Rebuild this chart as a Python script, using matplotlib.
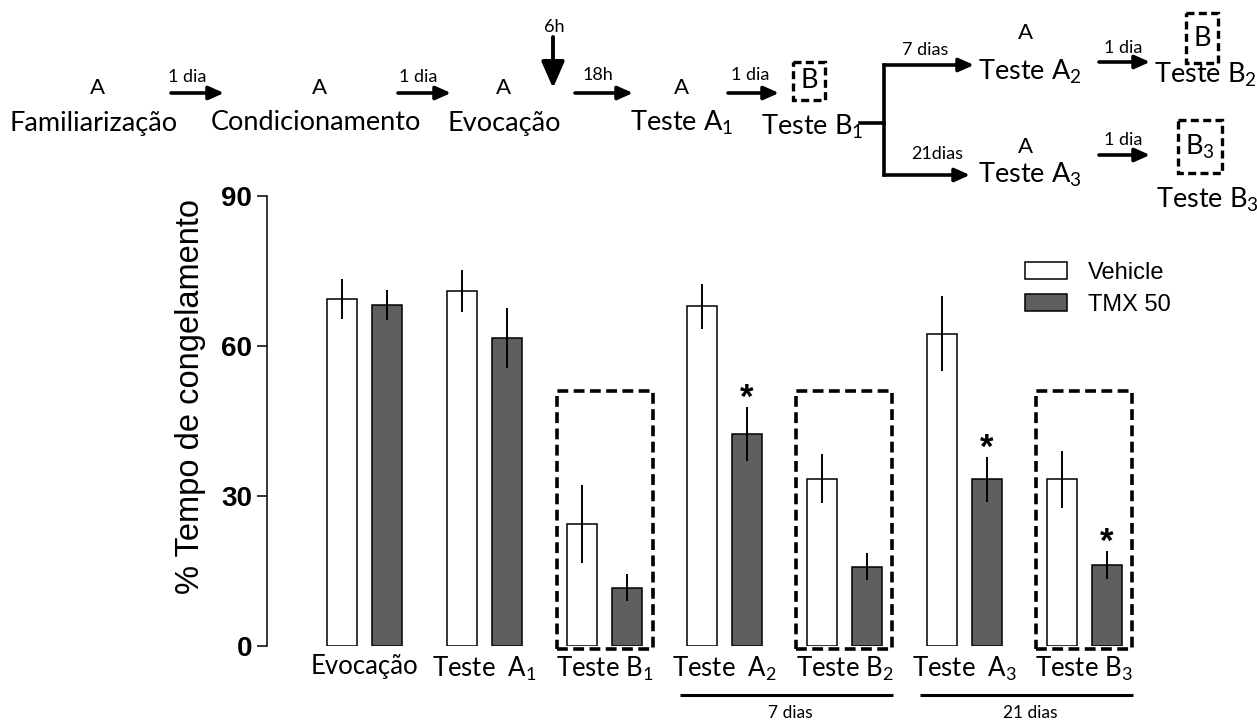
import numpy as np
import matplotlib.pyplot as plt
from matplotlib.patches import Rectangle, Patch

plt.rcParams['font.family'] = ['Lato', 'DejaVu Sans']

# data (% freezing, mean and SEM)
groups = ["Evocação", "Teste  $\\mathregular{A_1}$", "Teste $\\mathregular{B_1}$",
          "Teste  $\\mathregular{A_2}$", "Teste $\\mathregular{B_2}$",
          "Teste  $\\mathregular{A_3}$", "Teste $\\mathregular{B_3}$"]
vehicle = [69.5, 71.0, 24.5, 68.0, 33.5, 62.5, 33.4]
vehicle_sem = [4.0, 4.2, 7.8, 4.5, 4.9, 7.5, 5.7]
tmx = [68.2, 61.7, 11.7, 42.5, 15.9, 33.4, 16.2]
tmx_sem = [3.1, 6.0, 2.7, 5.4, 2.7, 4.5, 2.8]
tmx_sig = [False, False, False, True, False, True, True]
context_b = [False, False, True, False, True, False, True]
periods = [("7 dias", 3, 4), ("21 dias", 5, 6)]

W, H = 1257, 720
fig = plt.figure(figsize=(W / 100, H / 100), dpi=100)
ax = fig.add_axes([267 / W, 74 / H, 877 / W, 450 / H])

x = np.arange(len(groups))
bw = 0.25
off = 0.1875
dark = '#5f5f5f'

ax.bar(x - off, vehicle, bw, color='white', edgecolor='black', linewidth=1.1, zorder=2)
ax.bar(x + off, tmx, bw, color=dark, edgecolor='black', linewidth=1.1, zorder=2)
ax.errorbar(x - off, vehicle, yerr=vehicle_sem, fmt='none', ecolor='black',
            elinewidth=1.4, capsize=0, zorder=3)
ax.errorbar(x + off, tmx, yerr=tmx_sem, fmt='none', ecolor='black',
            elinewidth=1.4, capsize=0, zorder=3)

# significance stars
for i in range(len(groups)):
    if tmx_sig[i]:
        ax.text(x[i] + off, tmx[i] + tmx_sem[i] - 0.2, '*', ha='center', va='baseline',
                fontsize=25, fontweight='bold', family='Liberation Sans')

# dashed boxes around context B tests
for i in range(len(groups)):
    if context_b[i]:
        ax.add_patch(Rectangle((x[i] - 0.4, -0.6), 0.8, 51.6, fill=False, edgecolor='black',
                               linewidth=2.6, linestyle=(0, (3.0, 1.5)), zorder=4,
                               clip_on=False))

# period underlines
for name, a, b in periods:
    ax.plot([x[a] - 0.37, x[b] + 0.41], [-9.7, -9.7], color='black', linewidth=2.2,
            clip_on=False, solid_capstyle='butt')
    ax.text((x[a] + x[b]) / 2 + 0.05, -13.3, name, ha='center', va='center', fontsize=12.5)

ax.set_xlim(-98 / 120, 6.5)
ax.set_ylim(0, 90)
ax.set_yticks([0, 30, 60, 90])
ax.set_xticks(x)
ax.set_xticklabels(groups, fontsize=18.5)
ax.tick_params(axis='x', length=0, pad=6)
ax.tick_params(axis='y', length=7.2, width=1.1, pad=3.6)
for lab in ax.get_yticklabels():
    lab.set_family('Liberation Sans')
    lab.set_fontweight('bold')
    lab.set_fontsize(20)
for s in ['top', 'right', 'bottom']:
    ax.spines[s].set_visible(False)
ax.spines['left'].set_linewidth(1.1)
ax.patch.set_alpha(0)

leg = ax.legend(handles=[Patch(facecolor='white', edgecolor='black', linewidth=1.1, label='Vehicle'),
                         Patch(facecolor=dark, edgecolor='black', linewidth=1.1, label='TMX 50')],
                loc='upper left', bbox_to_anchor=(1025 / W, 1 - 262 / H),
                bbox_transform=fig.transFigure, frameon=False, borderpad=0, borderaxespad=0,
                handlelength=1.78, handleheight=0.72, handletextpad=0.9, labelspacing=0.42,
                prop={'family': 'Liberation Sans', 'size': 17})

# overlay in pixel coordinates for the protocol diagram
ov = fig.add_axes([0, 0, 1, 1])
ov.set_xlim(0, W)
ov.set_ylim(H, 0)
ov.axis('off')
ov.patch.set_alpha(0)

ov.text(191, 397, '% Tempo de congelamento', rotation=90, ha='center', va='center',
        fontsize=23.5, family='Liberation Sans')

big = 19.5
small = 13
ctx = 16


def arrow(x0, y0, x1, y1, head='-|>,head_length=0.45,head_width=0.2', lw=2.6):
    ov.annotate('', xy=(x1, y1), xytext=(x0, y0),
                arrowprops=dict(arrowstyle=head, lw=lw, color='black', mutation_scale=20,
                                shrinkA=0, shrinkB=0))


def ctx_box(x0, y0, x1, y1, label):
    ov.add_patch(Rectangle((x0, y0), x1 - x0, y1 - y0, fill=False, edgecolor='black',
                           linewidth=2.4, linestyle=(0, (2.4, 1.3))))
    ov.text((x0 + x1) / 2, (y0 + y1) / 2, label, ha='center', va='center', fontsize=big)


# row 1
ov.text(97, 88, 'A', ha='center', va='center', fontsize=ctx)
ov.text(94, 123, 'Familiarização', ha='center', va='center', fontsize=big)
arrow(171, 93, 224, 93)
ov.text(187, 77, '1 dia', ha='center', va='center', fontsize=small)
ov.text(320, 88, 'A', ha='center', va='center', fontsize=ctx)
ov.text(316, 123, 'Condicionamento', ha='center', va='center', fontsize=big)
arrow(398, 93, 451, 93)
ov.text(418, 77, '1 dia', ha='center', va='center', fontsize=small)
ov.text(504, 88, 'A', ha='center', va='center', fontsize=ctx)
ov.text(504, 123, 'Evocação', ha='center', va='center', fontsize=big)
ov.text(554, 27, '6h', ha='center', va='center', fontsize=small)
arrow(553, 37, 553, 88, head='-|>,head_length=0.8,head_width=0.35', lw=2.8)
arrow(575, 93, 633, 93)
ov.text(598, 75, '18h', ha='center', va='center', fontsize=small)
ov.text(681, 88, 'A', ha='center', va='center', fontsize=ctx)
ov.text(682, 123, 'Teste $\\mathregular{A_1}$', ha='center', va='center', fontsize=big)
arrow(728, 93, 779, 93)
ov.text(750, 75, '1 dia', ha='center', va='center', fontsize=small)
ctx_box(793, 62, 825, 100, 'B')
ov.text(812, 127, 'Teste $\\mathregular{B_1}$', ha='center', va='center', fontsize=big)

# branch
ov.plot([860, 884], [123, 123], color='black', lw=2.6)
ov.plot([884, 884], [65, 175], color='black', lw=2.6)
arrow(884, 65, 974, 65)
arrow(884, 175, 970, 175)
ov.text(925, 50, '7 dias', ha='center', va='center', fontsize=small)
ov.text(937, 154, '21dias', ha='center', va='center', fontsize=small)

# upper branch
ov.text(1026, 33, 'A', ha='center', va='center', fontsize=ctx)
ov.text(1030, 72, 'Teste $\\mathregular{A_2}$', ha='center', va='center', fontsize=big)
arrow(1099, 62, 1150, 62)
ov.text(1123, 48, '1 dia', ha='center', va='center', fontsize=small)
ctx_box(1186, 13, 1218, 63, 'B')
ov.text(1205, 75, 'Teste $\\mathregular{B_2}$', ha='center', va='center', fontsize=big)

# lower branch
ov.text(1026, 147, 'A', ha='center', va='center', fontsize=ctx)
ov.text(1030, 175, 'Teste $\\mathregular{A_3}$', ha='center', va='center', fontsize=big)
arrow(1099, 155, 1150, 155)
ov.text(1123, 140, '1 dia', ha='center', va='center', fontsize=small)
ctx_box(1178, 120, 1222, 173, '$\\mathregular{B_3}$')
ov.text(1207, 200, 'Teste $\\mathregular{B_3}$', ha='center', va='center', fontsize=big)

fig.savefig('out.png', dpi=100)
plt.close(fig)
